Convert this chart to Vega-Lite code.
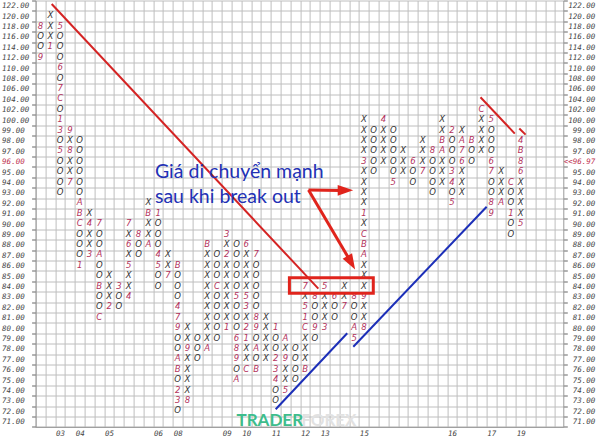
{
"$schema":"https://vega.github.io/schema/vega-lite/v6.json",
"width":527.7,"height":426.4,"autosize":"none",
"padding":{"left":35.6,"top":0.5,"right":36.7,"bottom":11.1},
"background":"white",
"config":{"view":{"stroke":null}},
"datasets":{
"pf":[
{"c":0,"p":118,"s":"8"},{"c":0,"p":116,"s":"O"},{"c":0,"p":114,"s":"O"},{"c":0,"p":112,"s":"9"},
{"c":1,"p":120,"s":"X"},{"c":1,"p":118,"s":"X"},{"c":1,"p":116,"s":"X"},{"c":1,"p":114,"s":"1"},
{"c":2,"p":118,"s":"5"},{"c":2,"p":116,"s":"O"},{"c":2,"p":114,"s":"O"},{"c":2,"p":112,"s":"O"},{"c":2,"p":110,"s":"6"},{"c":2,"p":108,"s":"O"},{"c":2,"p":106,"s":"7"},{"c":2,"p":104,"s":"C"},{"c":2,"p":102,"s":"O"},{"c":2,"p":100,"s":"1"},{"c":2,"p":99,"s":"3"},{"c":2,"p":98,"s":"O"},{"c":2,"p":97,"s":"5"},{"c":2,"p":96,"s":"O"},{"c":2,"p":95,"s":"O"},{"c":2,"p":94,"s":"O"},{"c":2,"p":93,"s":"O"},
{"c":3,"p":94,"s":"7"},{"c":3,"p":95,"s":"X"},{"c":3,"p":96,"s":"X"},{"c":3,"p":97,"s":"8"},{"c":3,"p":98,"s":"X"},{"c":3,"p":99,"s":"9"},
{"c":4,"p":98,"s":"O"},{"c":4,"p":97,"s":"O"},{"c":4,"p":96,"s":"O"},{"c":4,"p":95,"s":"O"},{"c":4,"p":94,"s":"O"},{"c":4,"p":93,"s":"O"},{"c":4,"p":92,"s":"A"},{"c":4,"p":91,"s":"B"},{"c":4,"p":90,"s":"C"},{"c":4,"p":89,"s":"O"},{"c":4,"p":88,"s":"O"},{"c":4,"p":87,"s":"O"},{"c":4,"p":86,"s":"1"},
{"c":5,"p":87,"s":"3"},{"c":5,"p":88,"s":"X"},{"c":5,"p":89,"s":"X"},{"c":5,"p":90,"s":"4"},{"c":5,"p":91,"s":"X"},
{"c":6,"p":90,"s":"7"},{"c":6,"p":89,"s":"O"},{"c":6,"p":88,"s":"O"},{"c":6,"p":87,"s":"A"},{"c":6,"p":86,"s":"O"},{"c":6,"p":85,"s":"O"},{"c":6,"p":84,"s":"B"},{"c":6,"p":83,"s":"O"},{"c":6,"p":82,"s":"O"},{"c":6,"p":81,"s":"C"},
{"c":7,"p":82,"s":"2"},{"c":7,"p":83,"s":"X"},{"c":7,"p":84,"s":"X"},{"c":7,"p":85,"s":"X"},
{"c":8,"p":84,"s":"3"},{"c":8,"p":83,"s":"O"},{"c":8,"p":82,"s":"O"},
{"c":9,"p":83,"s":"4"},{"c":9,"p":84,"s":"X"},{"c":9,"p":85,"s":"X"},{"c":9,"p":86,"s":"5"},{"c":9,"p":87,"s":"X"},{"c":9,"p":88,"s":"6"},{"c":9,"p":89,"s":"X"},{"c":9,"p":90,"s":"7"},
{"c":10,"p":89,"s":"8"},{"c":10,"p":88,"s":"O"},{"c":10,"p":87,"s":"O"},
{"c":11,"p":88,"s":"A"},{"c":11,"p":89,"s":"X"},{"c":11,"p":90,"s":"X"},{"c":11,"p":91,"s":"B"},{"c":11,"p":92,"s":"X"},
{"c":12,"p":91,"s":"1"},{"c":12,"p":90,"s":"O"},{"c":12,"p":89,"s":"O"},{"c":12,"p":88,"s":"O"},{"c":12,"p":87,"s":"4"},{"c":12,"p":86,"s":"5"},{"c":12,"p":85,"s":"O"},{"c":12,"p":84,"s":"O"},
{"c":13,"p":85,"s":"7"},{"c":13,"p":86,"s":"X"},{"c":13,"p":87,"s":"X"},
{"c":14,"p":86,"s":"B"},{"c":14,"p":85,"s":"O"},{"c":14,"p":84,"s":"O"},{"c":14,"p":83,"s":"O"},{"c":14,"p":82,"s":"4"},{"c":14,"p":81,"s":"7"},{"c":14,"p":80,"s":"9"},{"c":14,"p":79,"s":"O"},{"c":14,"p":78,"s":"O"},{"c":14,"p":77,"s":"A"},{"c":14,"p":76,"s":"B"},{"c":14,"p":75,"s":"O"},{"c":14,"p":74,"s":"2"},{"c":14,"p":73,"s":"3"},{"c":14,"p":72,"s":"O"},
{"c":15,"p":73,"s":"8"},{"c":15,"p":74,"s":"X"},{"c":15,"p":75,"s":"X"},{"c":15,"p":76,"s":"X"},{"c":15,"p":77,"s":"X"},{"c":15,"p":78,"s":"9"},{"c":15,"p":79,"s":"X"},{"c":15,"p":80,"s":"X"},
{"c":16,"p":79,"s":"O"},{"c":16,"p":78,"s":"O"},{"c":16,"p":77,"s":"O"},
{"c":17,"p":78,"s":"A"},{"c":17,"p":79,"s":"X"},{"c":17,"p":80,"s":"X"},{"c":17,"p":81,"s":"X"},{"c":17,"p":82,"s":"X"},{"c":17,"p":83,"s":"X"},{"c":17,"p":84,"s":"X"},{"c":17,"p":85,"s":"X"},{"c":17,"p":86,"s":"X"},{"c":17,"p":87,"s":"X"},{"c":17,"p":88,"s":"B"},
{"c":18,"p":87,"s":"O"},{"c":18,"p":86,"s":"O"},{"c":18,"p":85,"s":"O"},{"c":18,"p":84,"s":"C"},{"c":18,"p":83,"s":"O"},{"c":18,"p":82,"s":"O"},{"c":18,"p":81,"s":"O"},{"c":18,"p":80,"s":"O"},{"c":18,"p":79,"s":"O"},
{"c":19,"p":80,"s":"1"},{"c":19,"p":81,"s":"X"},{"c":19,"p":82,"s":"X"},{"c":19,"p":83,"s":"X"},{"c":19,"p":84,"s":"X"},{"c":19,"p":85,"s":"X"},{"c":19,"p":86,"s":"X"},{"c":19,"p":87,"s":"2"},{"c":19,"p":88,"s":"X"},{"c":19,"p":89,"s":"3"},
{"c":20,"p":88,"s":"O"},{"c":20,"p":87,"s":"O"},{"c":20,"p":86,"s":"O"},{"c":20,"p":85,"s":"O"},{"c":20,"p":84,"s":"O"},{"c":20,"p":83,"s":"5"},{"c":20,"p":82,"s":"O"},{"c":20,"p":81,"s":"O"},{"c":20,"p":80,"s":"O"},{"c":20,"p":79,"s":"6"},{"c":20,"p":78,"s":"8"},{"c":20,"p":77,"s":"9"},{"c":20,"p":76,"s":"O"},{"c":20,"p":75,"s":"A"},
{"c":21,"p":76,"s":"C"},{"c":21,"p":77,"s":"X"},{"c":21,"p":78,"s":"X"},{"c":21,"p":79,"s":"1"},{"c":21,"p":80,"s":"2"},{"c":21,"p":81,"s":"X"},{"c":21,"p":82,"s":"3"},{"c":21,"p":83,"s":"5"},{"c":21,"p":84,"s":"X"},{"c":21,"p":85,"s":"X"},{"c":21,"p":86,"s":"X"},{"c":21,"p":87,"s":"X"},{"c":21,"p":88,"s":"6"},
{"c":22,"p":87,"s":"7"},{"c":22,"p":86,"s":"O"},{"c":22,"p":85,"s":"O"},{"c":22,"p":84,"s":"O"},{"c":22,"p":83,"s":"O"},{"c":22,"p":82,"s":"O"},{"c":22,"p":81,"s":"8"},{"c":22,"p":80,"s":"9"},{"c":22,"p":79,"s":"O"},{"c":22,"p":78,"s":"A"},{"c":22,"p":77,"s":"O"},{"c":22,"p":76,"s":"B"},
{"c":23,"p":77,"s":"X"},{"c":23,"p":78,"s":"X"},{"c":23,"p":79,"s":"X"},{"c":23,"p":80,"s":"X"},{"c":23,"p":81,"s":"X"},
{"c":24,"p":80,"s":"1"},{"c":24,"p":79,"s":"O"},{"c":24,"p":78,"s":"O"},{"c":24,"p":77,"s":"2"},{"c":24,"p":76,"s":"3"},{"c":24,"p":75,"s":"4"},{"c":24,"p":74,"s":"O"},{"c":24,"p":73,"s":"O"},
{"c":25,"p":74,"s":"5"},{"c":25,"p":75,"s":"X"},{"c":25,"p":76,"s":"X"},{"c":25,"p":77,"s":"9"},{"c":25,"p":78,"s":"X"},{"c":25,"p":79,"s":"A"},
{"c":26,"p":78,"s":"O"},{"c":26,"p":77,"s":"O"},{"c":26,"p":76,"s":"O"},{"c":26,"p":75,"s":"O"},
{"c":27,"p":76,"s":"B"},{"c":27,"p":77,"s":"X"},{"c":27,"p":78,"s":"X"},{"c":27,"p":79,"s":"X"},{"c":27,"p":80,"s":"C"},{"c":27,"p":81,"s":"1"},{"c":27,"p":82,"s":"5"},{"c":27,"p":83,"s":"X"},{"c":27,"p":84,"s":"7"},
{"c":28,"p":83,"s":"8"},{"c":28,"p":82,"s":"O"},{"c":28,"p":81,"s":"O"},{"c":28,"p":80,"s":"9"},{"c":28,"p":79,"s":"O"},
{"c":29,"p":80,"s":"3"},{"c":29,"p":81,"s":"X"},{"c":29,"p":82,"s":"X"},{"c":29,"p":83,"s":"X"},{"c":29,"p":84,"s":"5"},
{"c":30,"p":83,"s":"6"},{"c":30,"p":82,"s":"O"},{"c":30,"p":81,"s":"O"},
{"c":31,"p":82,"s":"7"},{"c":31,"p":83,"s":"X"},{"c":31,"p":84,"s":"X"},
{"c":32,"p":83,"s":"8"},{"c":32,"p":82,"s":"O"},{"c":32,"p":81,"s":"O"},{"c":32,"p":80,"s":"A"},{"c":32,"p":79,"s":"5"},
{"c":33,"p":80,"s":"8"},{"c":33,"p":81,"s":"X"},{"c":33,"p":82,"s":"X"},{"c":33,"p":83,"s":"9"},{"c":33,"p":84,"s":"X"},{"c":33,"p":85,"s":"X"},{"c":33,"p":86,"s":"X"},{"c":33,"p":87,"s":"A"},{"c":33,"p":88,"s":"B"},{"c":33,"p":89,"s":"C"},{"c":33,"p":90,"s":"X"},{"c":33,"p":91,"s":"1"},{"c":33,"p":92,"s":"X"},{"c":33,"p":93,"s":"X"},{"c":33,"p":94,"s":"X"},{"c":33,"p":95,"s":"X"},{"c":33,"p":96,"s":"3"},{"c":33,"p":97,"s":"X"},{"c":33,"p":98,"s":"X"},{"c":33,"p":99,"s":"X"},{"c":33,"p":100,"s":"X"},
{"c":34,"p":99,"s":"O"},{"c":34,"p":98,"s":"O"},{"c":34,"p":97,"s":"O"},{"c":34,"p":96,"s":"O"},{"c":34,"p":95,"s":"O"},
{"c":35,"p":96,"s":"X"},{"c":35,"p":97,"s":"X"},{"c":35,"p":98,"s":"X"},{"c":35,"p":99,"s":"X"},{"c":35,"p":100,"s":"4"},
{"c":36,"p":99,"s":"O"},{"c":36,"p":98,"s":"O"},{"c":36,"p":97,"s":"O"},{"c":36,"p":96,"s":"O"},{"c":36,"p":95,"s":"O"},{"c":36,"p":94,"s":"5"},
{"c":37,"p":95,"s":"X"},{"c":37,"p":96,"s":"X"},{"c":37,"p":97,"s":"X"},
{"c":38,"p":96,"s":"6"},{"c":38,"p":95,"s":"O"},{"c":38,"p":94,"s":"O"},
{"c":39,"p":95,"s":"7"},{"c":39,"p":96,"s":"X"},{"c":39,"p":97,"s":"X"},{"c":39,"p":98,"s":"X"},
{"c":40,"p":97,"s":"8"},{"c":40,"p":96,"s":"O"},{"c":40,"p":95,"s":"O"},{"c":40,"p":94,"s":"O"},{"c":40,"p":93,"s":"O"},
{"c":41,"p":94,"s":"X"},{"c":41,"p":95,"s":"X"},{"c":41,"p":96,"s":"X"},{"c":41,"p":97,"s":"A"},{"c":41,"p":98,"s":"B"},{"c":41,"p":99,"s":"X"},{"c":41,"p":100,"s":"X"},
{"c":42,"p":99,"s":"2"},{"c":42,"p":98,"s":"O"},{"c":42,"p":97,"s":"O"},{"c":42,"p":96,"s":"O"},{"c":42,"p":95,"s":"3"},{"c":42,"p":94,"s":"4"},{"c":42,"p":93,"s":"O"},{"c":42,"p":92,"s":"5"},
{"c":43,"p":93,"s":"X"},{"c":43,"p":94,"s":"X"},{"c":43,"p":95,"s":"X"},{"c":43,"p":96,"s":"6"},{"c":43,"p":97,"s":"7"},{"c":43,"p":98,"s":"A"},{"c":43,"p":99,"s":"X"},
{"c":44,"p":98,"s":"B"},{"c":44,"p":97,"s":"O"},{"c":44,"p":96,"s":"O"},
{"c":45,"p":97,"s":"X"},{"c":45,"p":98,"s":"X"},{"c":45,"p":99,"s":"X"},{"c":45,"p":100,"s":"X"},{"c":45,"p":102,"s":"C"},
{"c":46,"p":100,"s":"5"},{"c":46,"p":99,"s":"O"},{"c":46,"p":98,"s":"O"},{"c":46,"p":97,"s":"O"},{"c":46,"p":96,"s":"6"},{"c":46,"p":95,"s":"7"},{"c":46,"p":94,"s":"O"},{"c":46,"p":93,"s":"O"},{"c":46,"p":92,"s":"8"},{"c":46,"p":91,"s":"9"},
{"c":47,"p":92,"s":"A"},{"c":47,"p":93,"s":"X"},{"c":47,"p":94,"s":"X"},{"c":47,"p":95,"s":"X"},
{"c":48,"p":94,"s":"C"},{"c":48,"p":93,"s":"O"},{"c":48,"p":92,"s":"O"},{"c":48,"p":91,"s":"1"},{"c":48,"p":90,"s":"O"},{"c":48,"p":89,"s":"O"},
{"c":49,"p":90,"s":"5"},{"c":49,"p":91,"s":"X"},{"c":49,"p":92,"s":"X"},{"c":49,"p":93,"s":"X"},{"c":49,"p":94,"s":"X"},{"c":49,"p":95,"s":"6"},{"c":49,"p":96,"s":"8"},{"c":49,"p":97,"s":"B"},{"c":49,"p":98,"s":"4"}
],
"red":[{"c":1.14,"p":122.32,"c2":28.35,"p2":83.8},{"c":44.9,"p":104.4,"c2":48.4,"p2":98.7},{"c":48.86,"p":99.2,"c2":49.5,"p2":98.6}],
"blue":[{"c":24.0,"p":72.2,"c2":31.3,"p2":79.5},{"c":31.92,"p":78.21,"c2":45.53,"p2":91.67}],
"box":[{"c":25.4,"p":84.85,"c2":33.96,"p2":83.35}],
"arrows":[{"c":27.35,"p":93.28,"c2":30.6,"p2":93.24},{"c":27.35,"p":93.28,"c2":31.4,"p2":86.8}],
"head1":[{"c":31.12,"p":93.25}],
"head2":[{"c":31.71,"p":86.29}],
"note":[{"c":11.68,"p":95.04,"t":"Giá di chuyển mạnh"},{"c":11.68,"p":92.63,"t":"sau khi break out"}],
"wm1":[{"c":20.0,"p":71.1,"t":"TRADER"}],
"wm2":[{"c":26.6,"p":71.1,"t":"FOREX"}]
},
"resolve":{"axis":{"x":"independent","y":"independent"}},
"layer":[
{"data":{"name":"pf"},
 "mark":{"type":"text","font":"DejaVu Sans","fontStyle":"italic","fontSize":8.5,"baseline":"middle","align":"center","dy":-1},
 "encoding":{
  "x":{"field":"c","type":"quantitative","scale":{"domain":[-0.5,53.35],"nice":false,"zero":false},
   "axis":{"orient":"top","title":null,"grid":true,"gridColor":"#bebebe","gridWidth":1,"labels":false,"ticks":false,"domain":false,
    "values":[-0.5,0.5,1.5,2.5,3.5,4.5,5.5,6.5,7.5,8.5,9.5,10.5,11.5,12.5,13.5,14.5,15.5,16.5,17.5,18.5,19.5,20.5,21.5,22.5,23.5,24.5,25.5,26.5,27.5,28.5,29.5,30.5,31.5,32.5,33.5,34.5,35.5,36.5,37.5,38.5,39.5,40.5,41.5,42.5,43.5,44.5,45.5,46.5,47.5,48.5,49.5,50.5,51.5,52.5]}},
  "y":{"field":"p","type":"quantitative","scale":{"domain":[123,100,99,70.5],"range":[0,119.6,130,426.4],"nice":false,"zero":false},
   "axis":{"orient":"left","title":null,"grid":true,"gridColor":"#bebebe","gridWidth":1,"domainColor":"#999","tickColor":"#666","tickSize":4,
    "values":[123,121,119,117,115,113,111,109,107,105,103,101,99.5,98.5,97.5,96.5,95.5,94.5,93.5,92.5,91.5,90.5,89.5,88.5,87.5,86.5,85.5,84.5,83.5,82.5,81.5,80.5,79.5,78.5,77.5,76.5,75.5,74.5,73.5,72.5,71.5,70.5],
    "labelExpr":"datum.value > 100 ? format(datum.value - 1, '.2f') : (datum.value > 71 ? format(datum.value - 0.5, '.2f') : '')",
    "labelOffset":5.2,"labelAlign":"left","labelBaseline":"middle","labelPadding":30,"labelOverlap":false,"labelFlush":false,
    "labelFont":"DejaVu Sans Mono","labelFontStyle":"italic","labelFontSize":7.5,
    "labelColor":{"condition":{"test":"datum.value === 96.5","value":"#c0304f"},"value":"#444"}}},
  "text":{"field":"s"},
  "color":{"condition":{"test":"datum.s === 'X' || datum.s === 'O'","value":"#333333"},"value":"#b3325c"}
 }},
{"data":{"name":"red"},
 "mark":{"type":"rule","color":"#d42323","strokeWidth":2},
 "encoding":{
  "x":{"field":"c","type":"quantitative","scale":{"domain":[-0.5,53.35],"nice":false,"zero":false},
   "axis":{"orient":"bottom","title":null,"grid":false,"ticks":false,"domain":true,"domainColor":"#999",
    "values":[2,4,7,12,14,19,21,24,27,29,33,42,46,49],
    "labelExpr":"datum.value === 2 ? '03' : datum.value === 4 ? '04' : datum.value === 7 ? '05' : datum.value === 12 ? '06' : datum.value === 14 ? '08' : datum.value === 19 ? '09' : datum.value === 21 ? '10' : datum.value === 24 ? '11' : datum.value === 27 ? '12' : datum.value === 29 ? '13' : datum.value === 33 ? '15' : datum.value === 42 ? '16' : datum.value === 46 ? '17' : datum.value === 49 ? '19' : ''",
    "labelPadding":3,"labelBaseline":"top","labelFlush":false,"labelOverlap":false,"labelFont":"DejaVu Sans Mono","labelFontStyle":"italic","labelFontSize":7.5,"labelColor":"#444"}},
  "x2":{"field":"c2"},
  "y":{"field":"p","type":"quantitative","scale":{"domain":[123,100,99,70.5],"range":[0,119.6,130,426.4],"nice":false,"zero":false},
   "axis":{"orient":"right","title":null,"grid":false,"domainColor":"#999","tickColor":"#666","tickSize":4,
    "values":[123,121,119,117,115,113,111,109,107,105,103,101,99.5,98.5,97.5,96.5,95.5,94.5,93.5,92.5,91.5,90.5,89.5,88.5,87.5,86.5,85.5,84.5,83.5,82.5,81.5,80.5,79.5,78.5,77.5,76.5,75.5,74.5,73.5,72.5,71.5,70.5],
    "labelExpr":"datum.value === 96.5 ? '<<96.97' : (datum.value > 100 ? format(datum.value - 1, '.2f') : (datum.value > 71 ? format(datum.value - 0.5, '.2f') : ''))",
    "labelOffset":5.2,"labelAlign":"right","labelBaseline":"middle","labelPadding":27.5,"labelOverlap":false,"labelFlush":false,
    "labelFont":"DejaVu Sans Mono","labelFontStyle":"italic","labelFontSize":7.5,
    "labelColor":{"condition":{"test":"datum.value === 96.5","value":"#c0304f"},"value":"#444"}}},
  "y2":{"field":"p2"}
 }},
{"data":{"name":"blue"},
 "mark":{"type":"rule","color":"#1c2fb8","strokeWidth":2},
 "encoding":{
  "x":{"field":"c","type":"quantitative","axis":null},"x2":{"field":"c2"},
  "y":{"field":"p","type":"quantitative","axis":null},"y2":{"field":"p2"}
 }},
{"data":{"name":"box"},
 "mark":{"type":"rect","fillOpacity":0,"stroke":"#e0241c","strokeWidth":3},
 "encoding":{
  "x":{"field":"c","type":"quantitative","axis":null},"x2":{"field":"c2"},
  "y":{"field":"p","type":"quantitative","axis":null},"y2":{"field":"p2"}
 }},
{"data":{"name":"arrows"},
 "mark":{"type":"rule","color":"#e0241c","strokeWidth":3},
 "encoding":{
  "x":{"field":"c","type":"quantitative","axis":null},"x2":{"field":"c2"},
  "y":{"field":"p","type":"quantitative","axis":null},"y2":{"field":"p2"}
 }},
{"data":{"name":"head1"},
 "mark":{"type":"point","shape":"M-1,-0.7L1,0L-1,0.7Z","size":240,"filled":true,"color":"#e0241c","opacity":1,"angle":0},
 "encoding":{"x":{"field":"c","type":"quantitative","axis":null},"y":{"field":"p","type":"quantitative","axis":null}}},
{"data":{"name":"head2"},
 "mark":{"type":"point","shape":"M-1,-0.7L1,0L-1,0.7Z","size":240,"filled":true,"color":"#e0241c","opacity":1,"angle":60},
 "encoding":{"x":{"field":"c","type":"quantitative","axis":null},"y":{"field":"p","type":"quantitative","axis":null}}},
{"data":{"name":"note"},
 "mark":{"type":"text","font":"Lato","fontSize":19.5,"align":"left","baseline":"middle","color":"#2231b5"},
 "encoding":{"x":{"field":"c","type":"quantitative","axis":null},"y":{"field":"p","type":"quantitative","axis":null},"text":{"field":"t"}}},
{"data":{"name":"wm1"},
 "mark":{"type":"text","font":"Lato","fontSize":17,"fontWeight":"bold","align":"left","baseline":"middle","color":"#3dbd8c"},
 "encoding":{"x":{"field":"c","type":"quantitative","axis":null},"y":{"field":"p","type":"quantitative","axis":null},"text":{"field":"t"}}},
{"data":{"name":"wm2"},
 "mark":{"type":"text","font":"Lato","fontSize":17,"fontWeight":"bold","align":"left","baseline":"middle","color":"#e2e2e2"},
 "encoding":{"x":{"field":"c","type":"quantitative","axis":null},"y":{"field":"p","type":"quantitative","axis":null},"text":{"field":"t"}}}
]
}
